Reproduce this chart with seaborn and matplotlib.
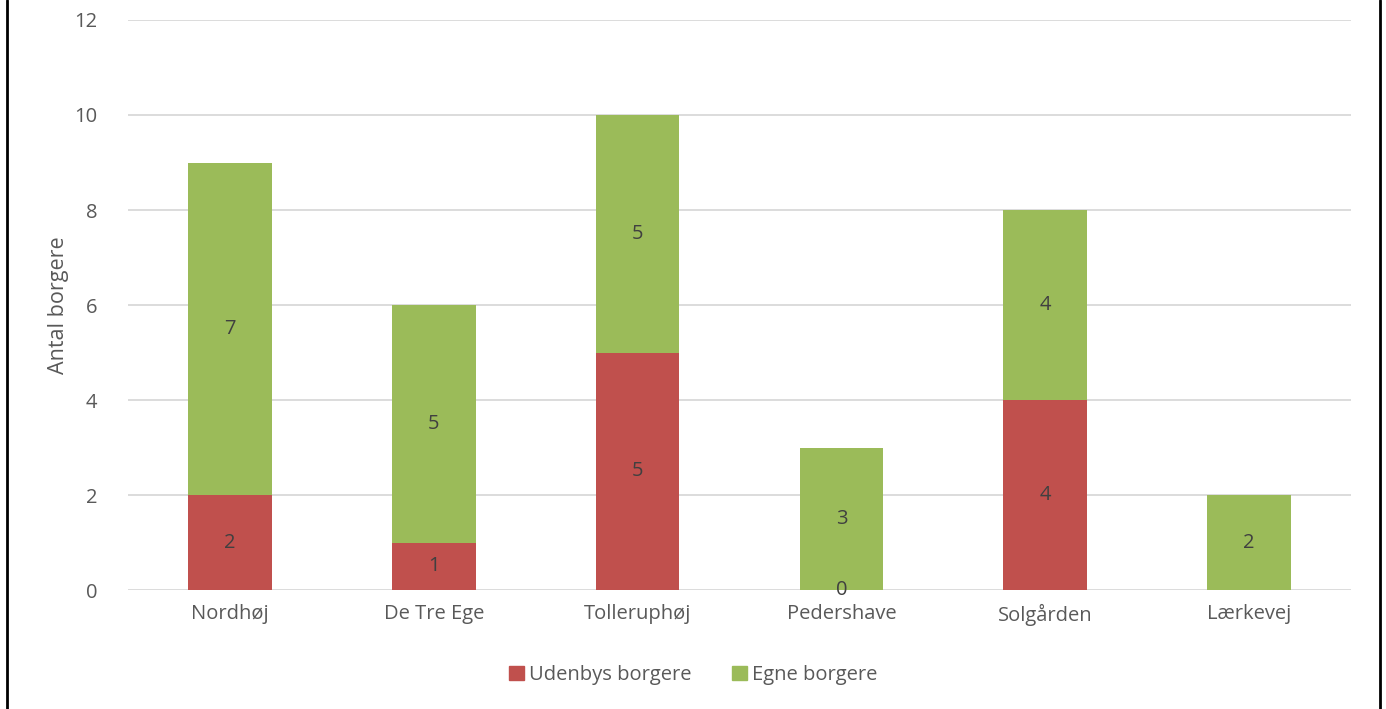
import pandas as pd
import matplotlib.pyplot as plt
import seaborn as sb
from matplotlib.lines import Line2D
from matplotlib.patches import Patch

# data
steder = ['Nordhøj', 'De Tre Ege', 'Tolleruphøj', 'Pedershave', 'Solgården', 'Lærkevej']
udenbys = [2, 1, 5, 0, 4, None]
egne = [7, 5, 5, 3, 4, 2]

rod = '#C0504D'
gron = '#9BBB59'
tekst = '#595959'

sb.set_style('white')
plt.rcParams['font.family'] = ['Open Sans', 'DejaVu Sans']

df = pd.DataFrame({'sted': steder, 'udenbys': udenbys, 'egne': egne})
df['total'] = df['udenbys'].fillna(0) + df['egne']

fig = plt.figure(figsize=(13.86, 7.09), dpi=100)
ax = fig.add_axes([0.0924, 0.1678, 0.8823, 0.804])

# grøn bar = total, rød bar ovenpå fra 0
sb.barplot(data=df, x='sted', y='total', color=gron, width=0.41, saturation=1, ax=ax, zorder=2,
           linewidth=0)
sb.barplot(data=df.dropna(), x='sted', y='udenbys', color=rod, width=0.41, saturation=1, ax=ax, zorder=3,
           order=steder, linewidth=0)

ax.set_ylim(0, 12)
ax.set_yticks(range(0, 13, 2))
ax.set_xlim(-0.5, len(steder) - 0.5)
ax.yaxis.grid(True, color='#D9D9D9', linewidth=1.3, zorder=0)
ax.set_axisbelow(True)
for s in ax.spines.values():
    s.set_visible(False)
ax.tick_params(axis='both', length=0, labelsize=14.5, colors=tekst)
ax.tick_params(axis='x', pad=10)
ax.tick_params(axis='y', pad=22)
ax.set_xlabel('')
ax.set_ylabel('Antal borgere', fontsize=15.5, color=tekst, labelpad=4)

# værdier i søjlerne
for i, r in df.iterrows():
    if pd.notna(r['udenbys']):
        ax.text(i, r['udenbys'] / 2, '{:d}'.format(int(r['udenbys'])), ha='center', va='center',
                fontsize=14.5, color='#404040', zorder=5)
    bund = 0 if pd.isna(r['udenbys']) else r['udenbys']
    ax.text(i, bund + r['egne'] / 2, '{:d}'.format(int(r['egne'])), ha='center', va='center',
            fontsize=14.5, color='#404040', zorder=5)

handles = [Patch(color=rod, label='Udenbys borgere'), Patch(color=gron, label='Egne borgere')]
fig.legend(handles=handles, loc='center', bbox_to_anchor=(0.5, 0.048), ncol=2, frameon=False,
           fontsize=14.5, labelcolor=tekst, handlelength=0.75, handleheight=0.75, handletextpad=0.25,
           columnspacing=2.0)

# ramme
fig.add_artist(Line2D([0.005, 0.005], [0, 1], color='black', linewidth=2, transform=fig.transFigure))
fig.add_artist(Line2D([0.9957, 0.9957], [0, 1], color='black', linewidth=2, transform=fig.transFigure))

plt.savefig('out.png', dpi=100)
